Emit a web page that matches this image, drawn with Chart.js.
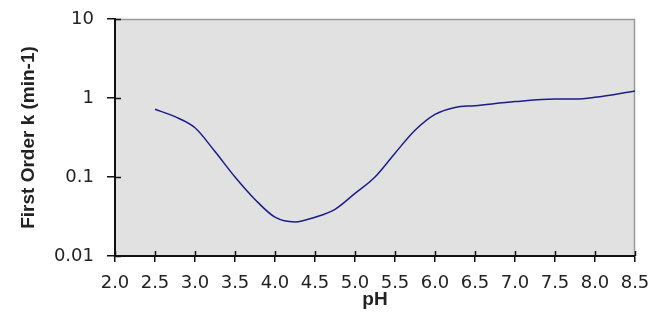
<!DOCTYPE html>
<html>
<head>
<meta charset="utf-8">
<script src="https://cdn.jsdelivr.net/npm/chart.js@4"></script>
<style>
  html, body { margin: 0; padding: 0; background: #fff; }
  #wrap { width: 664px; height: 322px; }
</style>
</head>
<body>
<div id="wrap"><canvas id="graph" width="664" height="322"></canvas></div>
<script>
// values
const phValues = [2.5, 2.75, 3.0, 3.25, 3.5, 3.75, 4.0, 4.25, 4.5, 4.75, 5.0, 5.25, 5.5, 5.75, 6.0, 6.25, 6.5, 7.0, 7.5, 7.75, 8.0, 8.5];
const kValues = [0.72, 0.58, 0.42, 0.21, 0.10, 0.052, 0.031, 0.027, 0.031, 0.039, 0.062, 0.10, 0.2, 0.39, 0.62, 0.76, 0.80, 0.90, 0.97, 0.97, 1.02, 1.23];
const yTicks = [0.01, 0.1, 1, 10];
const xLabel = 'pH';
const yLabel = 'First Order k (min-1)';

const points = phValues.map((x, i) => ({ x: x, y: kValues[i] }));

// grey plot area plus inner half of the tick marks
const plotBackground = {
    id: 'plotBackground',
    beforeDraw(chart) {
        const { ctx, chartArea: a } = chart;
        ctx.save();
        ctx.fillStyle = '#e1e1e1';
        ctx.fillRect(a.left, a.top, a.right - a.left, a.bottom - a.top);
        ctx.strokeStyle = '#9a9a9a';
        ctx.lineWidth = 1.5;
        ctx.beginPath();
        ctx.moveTo(a.left, a.top + 0.5);
        ctx.lineTo(a.right - 0.5, a.top + 0.5);
        ctx.lineTo(a.right - 0.5, a.bottom);
        ctx.stroke();
        ctx.restore();
    },
    afterDraw(chart) {
        const { ctx, chartArea: a, scales } = chart;
        ctx.save();
        ctx.strokeStyle = '#111';
        ctx.lineWidth = 1.5;
        ctx.beginPath();
        scales.x.ticks.forEach(t => {
            const px = Math.round(scales.x.getPixelForValue(t.value)) + 0.5;
            ctx.moveTo(px, a.bottom);
            ctx.lineTo(px, a.bottom - 5);
        });
        scales.y.ticks.forEach(t => {
            const py = Math.round(scales.y.getPixelForValue(t.value)) + 0.5;
            ctx.moveTo(a.left, py);
            ctx.lineTo(a.left + 6, py);
        });
        ctx.stroke();
        ctx.restore();
    }
};

const tickFont = { family: '"DejaVu Sans", sans-serif', size: 18 };
const titleFont = { family: 'Arial, "Liberation Sans", sans-serif', size: 19, weight: 'bold' };

new Chart(document.getElementById('graph').getContext('2d'), {
    type: 'line',
    data: {
        datasets: [{
            data: points,
            borderColor: '#1c1c8a',
            borderWidth: 1.5,
            pointRadius: 0,
            fill: false,
            cubicInterpolationMode: 'monotone'
        }]
    },
    plugins: [plotBackground],
    options: {
        responsive: false,
        animation: false,
        layout: { padding: { top: 19, right: 29, left: 0, bottom: 0 } },
        plugins: { legend: { display: false }, tooltip: { enabled: false } },
        scales: {
            x: {
                type: 'linear',
                min: 2,
                max: 8.5,
                afterFit: s => { s.height = 66; s.paddingLeft = 0; s.paddingRight = 0; },
                ticks: {
                    stepSize: 0.5,
                    autoSkip: false,
                    maxRotation: 0,
                    color: '#222',
                    font: tickFont,
                    padding: 11,
                    callback: v => v.toFixed(1)
                },
                grid: { drawOnChartArea: false, tickLength: 6, color: '#111', lineWidth: 1.5 },
                border: { color: '#111', width: 2 },
                title: { display: true, text: xLabel, color: '#222', font: titleFont, padding: { top: 0, bottom: 11 } }
            },
            y: {
                type: 'logarithmic',
                min: 0.01,
                max: 10,
                afterFit: s => { s.width = 115; s.paddingTop = 0; s.paddingBottom = 0; },
                afterBuildTicks: s => { s.ticks = yTicks.map(v => ({ value: v })); },
                ticks: {
                    color: '#222',
                    font: tickFont,
                    padding: 13,
                    callback: v => String(v)
                },
                grid: { drawOnChartArea: false, tickLength: 8, color: '#111', lineWidth: 1.5 },
                border: { color: '#111', width: 2 },
                title: { display: true, text: yLabel, color: '#222', font: titleFont, padding: { top: 17, bottom: 0 } }
            }
        }
    }
});
</script>
</body>
</html>
